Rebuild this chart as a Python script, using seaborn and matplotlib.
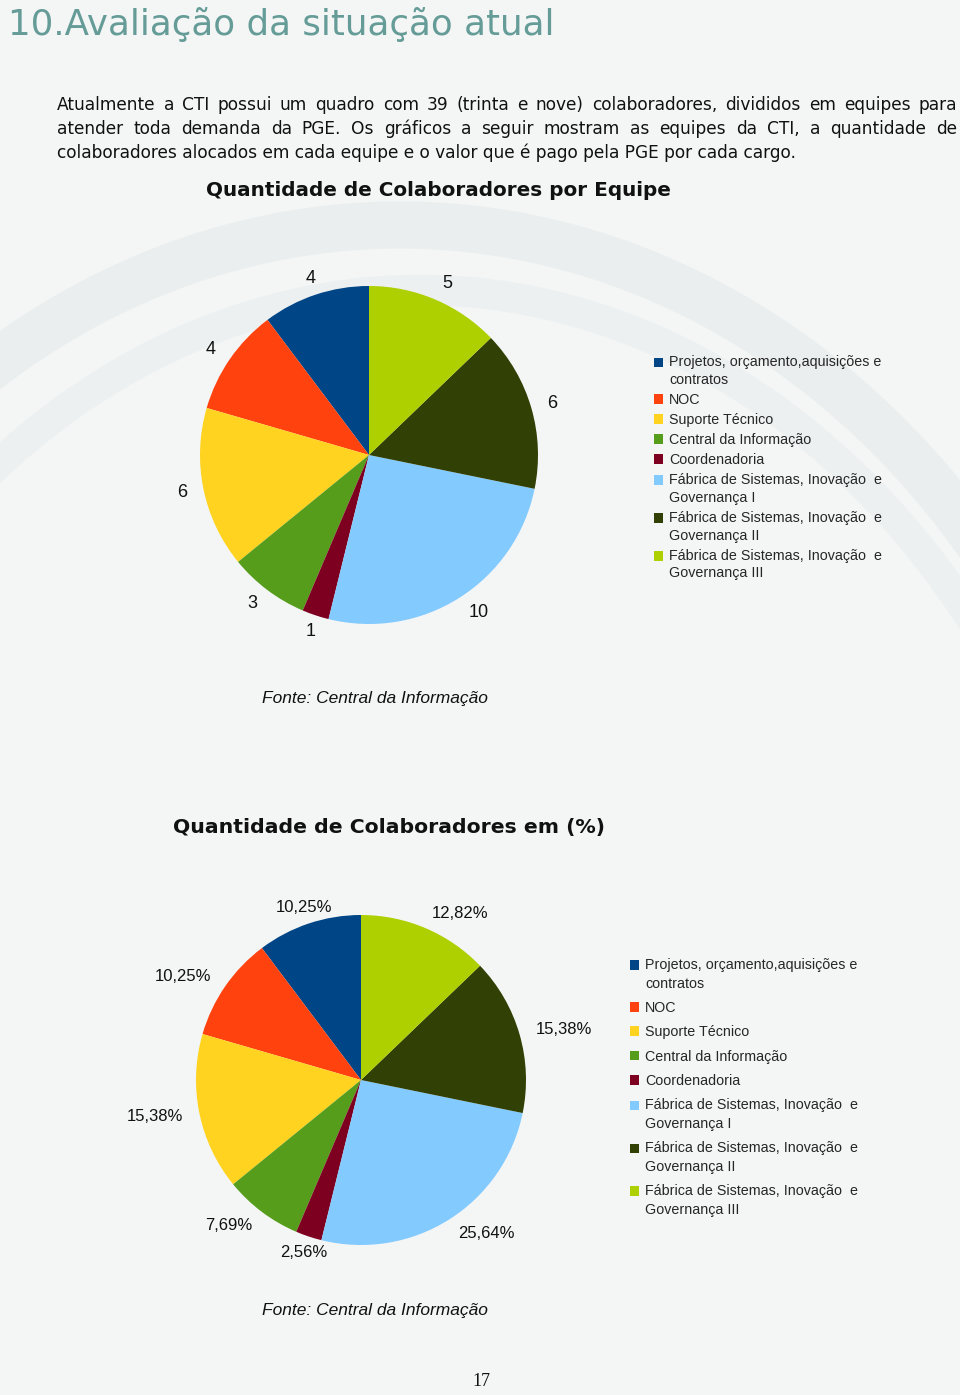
import numpy as np
import matplotlib
matplotlib.use("Agg")
import matplotlib.pyplot as plt
from matplotlib.patches import Arc, Rectangle
from matplotlib.legend_handler import HandlerPatch
import seaborn as sns

# data
equipes = [
    "Projetos, orçamento,aquisições e\ncontratos",
    "NOC",
    "Suporte Técnico",
    "Central da Informação",
    "Coordenadoria",
    "Fábrica de Sistemas, Inovação  e\nGovernança I",
    "Fábrica de Sistemas, Inovação  e\nGovernança II",
    "Fábrica de Sistemas, Inovação  e\nGovernança III",
]
colaboradores = [4, 4, 6, 3, 1, 10, 6, 5]
percentuais = [10.25, 10.25, 15.38, 7.69, 2.56, 25.64, 15.38, 12.82]
cores = ["#004586", "#ff420e", "#ffd320", "#579d1c", "#7e0021", "#83caff", "#314004", "#aecf00"]

paragrafo = [
    "Atualmente a CTI possui um quadro com 39 (trinta e nove) colaboradores, divididos em equipes para",
    "atender toda demanda da PGE. Os gráficos a seguir mostram as equipes da CTI, a quantidade de",
    "colaboradores alocados em cada equipe e o valor que é pago pela PGE por cada cargo.",
]

sns.set_theme(style="white")
plt.rcParams["font.family"] = ["Liberation Sans", "DejaVu Sans"]

W, H = 960, 1395
fig = plt.figure(figsize=(W / 100, H / 100), dpi=100)
fig.patch.set_facecolor("#f4f6f6")
r = fig.canvas.get_renderer()


def px(x, y):
    return x / W, 1 - y / H


def fit(t, width):
    w = t.get_window_extent(r).width
    t.set_fontsize(t.get_fontsize() * width / w)
    return t


def topo(shift):
    # legend square aligned with the first line of a wrapped label
    def f(legend, orig_handle, xdescent, ydescent, width, height, fontsize):
        return Rectangle((-xdescent, -ydescent + shift), width, height)
    return f


# background swoosh (soft)
bg = fig.add_axes([0, 0, 1, 1], zorder=-5)
bg.set_xlim(0, W)
bg.set_ylim(H, 0)
bg.axis("off")
bg.add_patch(Arc((400, 1100), 1500, 1750, theta1=180, theta2=360, lw=34, color="#e2e9e8", alpha=0.55))
bg.add_patch(Arc((420, 1180), 1420, 1780, theta1=180, theta2=360, lw=22, color="#e6ecec", alpha=0.5))
bg.add_patch(Arc((-300, 1500), 2300, 2300, theta1=10, theta2=60, lw=60, color="#ebf0f0", alpha=0.6))

# header
t = fig.text(*px(8, 25), "10.Avaliação da situação atual", family="DejaVu Sans",
             color="#669c97", fontsize=26, va="center")
fit(t, 545)

body_kw = dict(family="DejaVu Sans", color="#111111", va="center")
t3 = fig.text(*px(57, 153), paragrafo[2], fontsize=11, **body_kw)
fit(t3, 749)
fs_body = t3.get_fontsize()
for line, y in zip(paragrafo[:2], [105, 129]):
    words = line.split()
    arts = [fig.text(0, 0, w_, fontsize=fs_body, **body_kw) for w_ in words]
    widths = [a.get_window_extent(r).width for a in arts]
    gap = (957 - 57 - sum(widths)) / (len(words) - 1)
    x = 57
    for a, w_ in zip(arts, widths):
        a.set_position(px(x, y))
        x += w_ + gap


def pie_chart(cx, cy, rad, valores, rotulos, fs_lab, titulo, tx, tw, ty, leg_xy, leg_sp, leg_ls,
              shift, fonte_y):
    ax = fig.add_axes([(cx - rad) / W, 1 - (cy + rad) / H, 2 * rad / W, 2 * rad / H])
    wedges, texts = ax.pie(valores, labels=rotulos, colors=cores, startangle=90, counterclock=True,
                           labeldistance=1.1, wedgeprops=dict(linewidth=0),
                           textprops=dict(fontsize=fs_lab, color="#111111"))
    ax.set_xlim(-1, 1)
    ax.set_ylim(-1, 1)
    ax.set_aspect("equal")
    for tx_ in texts:
        xx, yy = tx_.get_position()
        if abs(xx) < 0.4:
            tx_.set_ha("center")
    tt = fig.text(*px(tx, ty), titulo, family="DejaVu Sans", weight="bold", fontsize=16,
                  color="#111111", va="center")
    fit(tt, tw)
    hmap = {w: HandlerPatch(patch_func=topo(shift)) for w, lab in zip(wedges, equipes) if "\n" in lab}
    leg = ax.legend(wedges, equipes, loc="upper left", bbox_to_anchor=px(*leg_xy),
                    bbox_transform=fig.transFigure, frameon=False, borderpad=0, borderaxespad=0,
                    fontsize=10.3, handlelength=0.65, handleheight=0.65, handletextpad=0.4,
                    labelspacing=leg_sp, handler_map=hmap)
    for lt in leg.get_texts():
        lt.set_linespacing(leg_ls)
    fig.text(*px(262, fonte_y), "Fonte: Central da Informação", style="italic",
             fontsize=12.5, color="#111111", va="center")
    return ax


pie_chart(369, 455, 169, colaboradores, [str(v) for v in colaboradores], 13,
          "Quantidade de Colaboradores por Equipe", 206, 465, 191, (654, 355), 0.42, 1.35,
          6.5, 698)
pie_chart(361, 1080, 165, percentuais, [f"{v:.2f}%".replace(".", ",") for v in percentuais], 12,
          "Quantidade de Colaboradores em (%)", 173, 432, 827, (630, 958), 0.72, 1.42,
          6.85, 1311)

fig.text(*px(481, 1382), "17", family="Liberation Serif", fontsize=13, ha="center", va="center",
         color="#111111")

fig.savefig("out.png", dpi=100, facecolor=fig.get_facecolor())
